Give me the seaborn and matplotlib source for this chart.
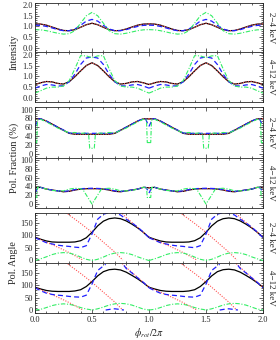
import numpy as np
import pandas as pd
import matplotlib
matplotlib.use("Agg")
import matplotlib.pyplot as plt
from matplotlib.ticker import MultipleLocator
import seaborn as sns

sns.set_style("ticks")
plt.rcParams['font.family'] = ['Liberation Serif', 'DejaVu Serif']
plt.rcParams['mathtext.fontset'] = 'stix'

# ---------------- data (one rotation period, phase 0..1) ----------------
ph = np.round(np.arange(0, 1.0001, 0.05), 3)

# intensity, 2-4 keV
int24_black = [1.12, 1.11, 1.06, 0.97, 0.88, 0.81, 0.80, 0.85, 0.96, 1.08, 1.15,
               1.08, 0.96, 0.85, 0.80, 0.81, 0.88, 0.97, 1.06, 1.11, 1.12]
int24_blue = [1.06, 1.05, 1.00, 0.93, 0.85, 0.80, 0.80, 0.88, 1.05, 1.25, 1.33,
              1.25, 1.05, 0.88, 0.80, 0.80, 0.85, 0.93, 1.00, 1.05, 1.06]
int24_green = [0.85, 0.84, 0.80, 0.74, 0.68, 0.64, 0.66, 0.80, 1.15, 1.50, 1.66,
               1.50, 1.15, 0.80, 0.66, 0.64, 0.68, 0.74, 0.80, 0.84, 0.85]

# intensity, 4-12 keV
int412_black = [0.62, 0.70, 0.76, 0.74, 0.67, 0.64, 0.75, 0.98, 1.25, 1.50, 1.63,
                1.50, 1.25, 0.98, 0.75, 0.64, 0.67, 0.74, 0.76, 0.70, 0.62]
int412_blue = [0.45, 0.55, 0.62, 0.60, 0.55, 0.56, 0.75, 1.10, 1.55, 1.85, 1.90,
               1.85, 1.55, 1.10, 0.75, 0.56, 0.55, 0.60, 0.62, 0.55, 0.45]
int412_green = [0.22, 0.33, 0.45, 0.50, 0.50, 0.55, 0.80, 1.35, 1.96, 1.95, 1.86,
                1.95, 1.96, 1.35, 0.80, 0.55, 0.50, 0.50, 0.45, 0.33, 0.22]

# polarization fraction, 2-4 keV
pf24_ph = [0, 0.05, 0.1, 0.2, 0.3, 0.35, 0.5, 0.65, 0.7, 0.8, 0.9, 0.95, 1.0]
pf24_black = [79, 79, 74, 60, 46, 44, 44, 44, 46, 60, 74, 79, 79]
pf24_blue_ph = [0, 0.015, 0.03, 0.05, 0.1, 0.2, 0.3, 0.35, 0.5, 0.65, 0.7, 0.8,
                0.9, 0.95, 0.97, 0.985, 1.0]
pf24_blue = [62, 70, 79, 79, 74, 60, 47, 46, 46, 46, 47, 60, 74, 79, 79, 70, 62]
pf24_green_ph = [0, 0.015, 0.022, 0.05, 0.1, 0.2, 0.3, 0.35, 0.4, 0.45, 0.47,
                 0.48, 0.52, 0.53, 0.55, 0.6, 0.65, 0.7, 0.8, 0.9, 0.95, 0.978,
                 0.985, 1.0]
pf24_green = [25, 25, 76, 78, 72, 58, 47, 48, 46, 47, 45, 12, 12, 45, 47, 46, 48,
              47, 58, 72, 78, 76, 25, 25]

# polarization fraction, 4-12 keV
pf412_black = [37, 38, 34, 32, 30, 28, 29, 32, 34, 35, 35, 35, 34, 32, 29, 28, 30,
               32, 34, 38, 37]
pf412_blue_ph = [0, 0.015, 0.03, 0.05, 0.1, 0.15, 0.2, 0.25, 0.3, 0.35, 0.4, 0.5,
                 0.6, 0.65, 0.7, 0.75, 0.8, 0.85, 0.9, 0.95, 0.97, 0.985, 1.0]
pf412_blue = [25, 33, 38, 38, 34, 32, 30, 29, 30, 33, 35, 36, 35, 33, 30, 29, 30,
              32, 34, 38, 38, 33, 25]
pf412_green_ph = [0, 0.015, 0.022, 0.05, 0.1, 0.15, 0.2, 0.25, 0.3, 0.35, 0.4,
                  0.42, 0.5, 0.58, 0.6, 0.65, 0.7, 0.75, 0.8, 0.85, 0.9, 0.95,
                  0.978, 0.985, 1.0]
pf412_green = [15, 15, 38, 38, 34, 31, 30, 30, 34, 36, 35, 33, 0, 33, 35, 36, 34,
               30, 30, 31, 34, 38, 38, 15, 15]

# polarization angle, 2-4 keV (nan = wrap between 180 and 0 deg)
pa24_black = [92, 84, 77, 73, 72, 72, 72, 73, 78, 90, 112, 138, 157, 167, 170, 167,
              158, 145, 130, 112, 92]
pa24_blue = [90, 80, 70, 65, 60, 57, 55, 52, 50, 58, 105, 165, 185, 192, 190, 182,
             165, 150, 133, 113, 90]
pa24_red_ph = [0, 0.1, 0.2, 0.3, 0.4, 0.42, np.nan, 0.27, 0.35, 0.4, 0.45, 0.5,
               0.55, 0.6, 0.7, 0.77, np.nan, 0.75, 0.8, 0.85, 0.9, 0.95, 1.0]
pa24_red = [92, 72, 52, 30, 5, 0, np.nan, 192, 165, 148, 130, 112, 92, 72, 32, 0,
            np.nan, 195, 172, 152, 132, 112, 92]
pa24_green = [-2, 5, 13, 22, 28, 30, 28, 22, 12, 3, -2, 3, 12, 22, 28, 30, 28, 22,
              13, 5, -2]

# polarization angle, 4-12 keV
pa412_black = [92, 85, 79, 76, 75, 75, 75, 77, 82, 95, 115, 138, 155, 163, 165,
               162, 153, 140, 126, 110, 92]
pa412_blue_ph = [0, 0.05, 0.1, 0.15, 0.2, 0.25, 0.3, 0.35, 0.4, 0.45, 0.5, 0.55,
                 0.6, 0.62, np.nan, 0.62, 0.66, 0.7, 0.75, 0.78, np.nan, 0.78, 0.8,
                 0.85, 0.9, 0.95, 1.0]
pa412_blue = [90, 78, 68, 63, 60, 58, 55, 53, 52, 60, 105, 160, 178, 185, np.nan,
              0, 3, 5, 2, 0, np.nan, 180, 168, 150, 130, 112, 90]
pa412_red_ph = pa24_red_ph
pa412_red = [92, 72, 52, 30, 5, 0, np.nan, 192, 165, 148, 130, 112, 92, 72, 32, 0,
             np.nan, 195, 172, 152, 132, 112, 92]
pa412_green_ph = [0, 0.05, 0.1, 0.15, 0.2, 0.25, 0.3, 0.35, 0.4, 0.45, 0.48, 0.5,
                  0.52, 0.55, 0.6, 0.65, 0.7, 0.75, 0.8, 0.85, 0.9, 0.95, 1.0]
pa412_green = [0, 3, 10, 18, 23, 25, 23, 18, 10, 4, 2, -1, 2, 5, 12, 20, 25, 27,
               25, 20, 12, 4, 0]


def segments(p, v):
    """split a (phase, value) list at nan markers and repeat it for 2 periods"""
    p = np.asarray(p, float)
    v = np.asarray(v, float)
    cuts = np.where(np.isnan(p))[0]
    out = []
    start = 0
    for c in list(cuts) + [len(p)]:
        out.append((p[start:c], v[start:c]))
        start = c + 1
    return [(sp + k, sv) for k in (0, 1) for sp, sv in out]


styles = {
    "black": dict(color="black", lw=0.9, ls="-"),
    "red": dict(color="#ff5050", lw=0.8, ls=(0, (1, 1.3))),
    "blue": dict(color="#2020ff", lw=0.9, ls=(0, (4, 2.5))),
    "green": dict(color="#33ee66", lw=0.8, ls=(0, (4, 1.5, 1, 1.5))),
}

panels = [
    # (curves, ylim, major, minor, ticklabel fmt, band)
    ([("black", ph, int24_black), ("red", ph, int24_black), ("blue", ph, int24_blue),
      ("green", ph, int24_green)], (-0.2, 2.1), 0.5, 0.1, "{:.1f}", "2\u22124 keV"),
    ([("black", ph, int412_black), ("red", ph, int412_black), ("blue", ph, int412_blue),
      ("green", ph, int412_green)], (-0.17, 2.13), 0.5, 0.1, "{:.1f}", "4\u221212 keV"),
    ([("black", pf24_ph, pf24_black), ("red", pf24_ph, pf24_black),
      ("blue", pf24_blue_ph, pf24_blue), ("green", pf24_green_ph, pf24_green)],
     (-9, 106), 20, 5, "{:.0f}", "2\u22124 keV"),
    ([("black", ph, pf412_black), ("red", ph, pf412_black),
      ("blue", pf412_blue_ph, pf412_blue), ("green", pf412_green_ph, pf412_green)],
     (-9, 106), 20, 5, "{:.0f}", "4\u221212 keV"),
    ([("black", ph, pa24_black), ("red", pa24_red_ph, pa24_red), ("blue", ph, pa24_blue),
      ("green", ph, pa24_green)], (-12, 190), 50, 10, "{:.0f}", "2\u22124 keV"),
    ([("black", ph, pa412_black), ("red", pa412_red_ph, pa412_red),
      ("blue", pa412_blue_ph, pa412_blue), ("green", pa412_green_ph, pa412_green)],
     (-12, 190), 50, 10, "{:.0f}", "4\u221212 keV"),
]

# panel edges in pixels from the top of the 280x340 canvas
W, H = 280, 340
x0, x1 = 35, 263
edges = [(3, 52), (52, 101.5), (107, 157.5), (157.5, 208), (213, 263), (263, 313)]

fig = plt.figure(figsize=(2.8, 3.4), dpi=100)
for k, (curves, ylim, major, minor, fmt, band) in enumerate(panels):
    top, bot = edges[k]
    ax = fig.add_axes([x0 / W, 1 - bot / H, (x1 - x0) / W, (bot - top) / H])
    for name, p, v in curves:
        st = styles[name]
        for sp, sv in segments(p, v):
            df = pd.DataFrame({"phase": sp, "val": sv})
            sns.lineplot(data=df, x="phase", y="val", ax=ax, sort=False,
                         estimator=None, color=st["color"], lw=st["lw"],
                         linestyle=st["ls"])
    ax.set_xlim(0, 2)
    ax.xaxis.set_major_locator(MultipleLocator(0.5))
    ax.xaxis.set_minor_locator(MultipleLocator(0.1))
    ax.yaxis.set_minor_locator(MultipleLocator(minor))
    ax.tick_params(which="both", direction="in", top=True, right=True,
                   labelsize=6, width=0.5, pad=1.5)
    ax.tick_params(which="major", length=3)
    ax.tick_params(which="minor", length=1.5)
    ax.set_xlabel("")
    ax.set_ylabel("")
    ticks = [t for t in np.arange(0, ylim[1] + 1e-9, major)]
    ax.set_yticks(ticks)
    ax.set_yticklabels([fmt.format(t) for t in ticks])
    ax.set_ylim(*ylim)
    if k < 5:
        ax.set_xticklabels([])
    else:
        ax.set_xticks([0, 0.5, 1.0, 1.5, 2.0])
        ax.set_xticklabels(["0.0", "0.5", "1.0", "1.5", "2.0"])
        ax.tick_params(axis="x", pad=2.5)
    for s in ax.spines.values():
        s.set_linewidth(0.6)
    ax.text(1.034, 0.5, band, transform=ax.transAxes, rotation=270,
            ha="center", va="center", fontsize=6.5)

fig.text(14 / W, 1 - 52 / H, "Intensity", rotation=90, ha="center", va="center",
         fontsize=7.3)
fig.text(14 / W, 1 - 157.5 / H, "Pol. Fraction (%)", rotation=90, ha="center",
         va="center", fontsize=7.3)
fig.text(14 / W, 1 - 263 / H, "Pol. Angle", rotation=90, ha="center", va="center",
         fontsize=7.3)
fig.text((x0 + x1) / 2 / W, 1 - 332.5 / H, r"$\phi_{rot}/2\pi$", ha="center",
         va="center", fontsize=7.3)

fig.savefig("out.png", dpi=100)
